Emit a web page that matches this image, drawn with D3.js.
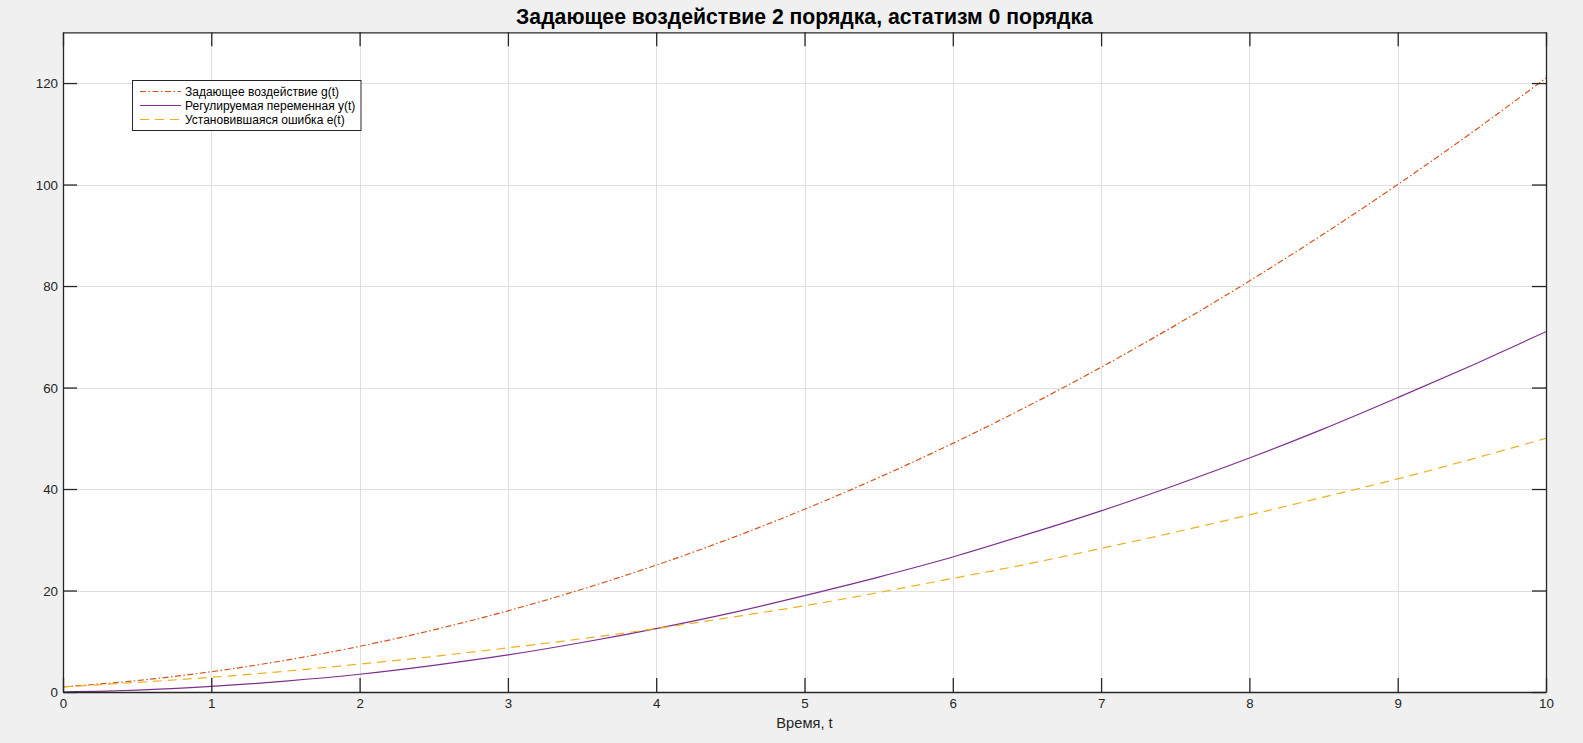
<!DOCTYPE html>
<html><head><meta charset="utf-8">
<script src="https://cdn.jsdelivr.net/npm/d3@7"></script>
<style>
html,body{margin:0;padding:0;background:#f0f0f0;}
svg{display:block;font-family:"Liberation Sans",Arial,Helvetica,sans-serif;}
</style></head>
<body><svg id="c" width="1583" height="743"></svg>
<script>
const titleText = "Задающее воздействие 2 порядка, астатизм 0 порядка";
const xLabel = "Время, t";
const tValues = [0,0.5,1,1.5,2,2.5,3,3.5,4,4.5,5,5.5,6,6.5,7,7.5,8,8.5,9,9.5,10];
const gValues = [1,2.25,4,6.25,9,12.25,16,20.25,25,30.25,36,42.25,49,56.25,64,72.25,81,90.25,100,110.25,121];
const yValues = [0,0.35,1.1,2.15,3.5,5.25,7.3,9.75,12.5,15.55,19.0,22.65,26.6,31.05,35.7,40.75,46.1,51.85,58.0,64.35,71.0];
const eValues = [1,1.9,2.9,4.1,5.5,7.0,8.7,10.5,12.5,14.7,17.0,19.6,22.4,25.2,28.3,31.5,34.9,38.4,42.0,45.9,50.0];
const xTicks = [0,1,2,3,4,5,6,7,8,9,10];
const yTicks = [0,20,40,60,80,100,120];
const seriesNames = ["Задающее воздействие g(t)","Регулируемая переменная y(t)","Установившаяся ошибка e(t)"];

const W = 1583, H = 743;
const m = {left:63, right:37, top:32.3, bottom:51};
const pw = W - m.left - m.right, ph = H - m.top - m.bottom;
const svg = d3.select("#c");
const x = d3.scaleLinear().domain([0,10]).range([m.left, m.left+pw]);
const y = d3.scaleLinear().domain([0,130]).range([m.top+ph, m.top]);
const axCol = "#262626";

svg.append("rect").attr("x",m.left).attr("y",m.top).attr("width",pw).attr("height",ph).attr("fill","#fff");

// grid
const g = svg.append("g");
g.selectAll(".gx").data(xTicks).join("line")
  .attr("x1",d=>Math.round(x(d))+0.5).attr("x2",d=>Math.round(x(d))+0.5)
  .attr("y1",m.top).attr("y2",m.top+ph).attr("stroke","#dfdfdf").attr("stroke-width",1);
g.selectAll(".gy").data(yTicks).join("line")
  .attr("y1",d=>Math.round(y(d))+0.5).attr("y2",d=>Math.round(y(d))+0.5)
  .attr("x1",m.left).attr("x2",m.left+pw).attr("stroke","#dfdfdf").attr("stroke-width",1);

// series
const series = [
  {vals:gValues, color:"#D95319", dash:"6,2.5,1.5,2.5"},
  {vals:yValues, color:"#7E2F8E", dash:null},
  {vals:eValues, color:"#EDB120", dash:"9,6"}
];
const line = d3.line().x((d,i)=>x(tValues[i])).y(d=>y(d)).curve(d3.curveMonotoneX);
svg.append("clipPath").attr("id","pc").append("rect")
  .attr("x",m.left).attr("y",m.top).attr("width",pw).attr("height",ph);
svg.append("g").attr("clip-path","url(#pc)").selectAll("path").data(series).join("path")
  .attr("d",d=>line(d.vals)).attr("fill","none").attr("stroke",d=>d.color)
  .attr("stroke-width",1.2).attr("stroke-dasharray",d=>d.dash);

// axes with inward ticks, box
const tl = 14;
const axB = d3.axisBottom(x).tickValues(xTicks).tickSizeInner(-tl).tickSizeOuter(0).tickPadding(6).tickFormat(d3.format("d"));
const axT = d3.axisTop(x).tickValues(xTicks).tickSizeInner(-tl).tickSizeOuter(0).tickFormat("");
const axL = d3.axisLeft(y).tickValues(yTicks).tickSizeInner(-tl).tickSizeOuter(0).tickPadding(5).tickFormat(d3.format("d"));
const axR = d3.axisRight(y).tickValues(yTicks).tickSizeInner(-tl).tickSizeOuter(0).tickFormat("");
function style(sel){
  sel.selectAll("path").attr("stroke",axCol).attr("stroke-width",1.3);
  sel.selectAll("line").attr("stroke",axCol).attr("stroke-width",1.3);
  sel.selectAll("text").attr("fill",axCol).attr("font-size","13.33px").attr("font-family","Liberation Sans, Arial, sans-serif");
}
svg.append("g").attr("transform",`translate(0,${m.top+ph})`).call(axB).call(style)
  .selectAll(".tick text").attr("y",6).attr("dy","0.78em");
svg.append("g").attr("transform",`translate(0,${m.top})`).call(axT).call(style);
svg.append("g").attr("transform",`translate(${m.left},0)`).call(axL).call(style)
  .selectAll(".tick text").attr("x",-5).attr("dy","0.35em").attr("text-anchor","end");
svg.append("g").attr("transform",`translate(${m.left+pw},0)`).call(axR).call(style);

// title & label
svg.append("text").attr("x",m.left+pw/2).attr("y",24).attr("text-anchor","middle")
  .attr("font-size","21.2px").attr("font-weight","bold").attr("fill","#000").text(titleText);
svg.append("text").attr("x",m.left+pw/2).attr("y",728).attr("text-anchor","middle")
  .attr("font-size","14.67px").attr("fill",axCol).text(xLabel);

// legend
const lg = svg.append("g");
lg.append("rect").attr("x",132.5).attr("y",80.5).attr("width",228.5).attr("height",50)
  .attr("fill","#fff").attr("stroke",axCol).attr("stroke-width",1);
const rows = [91.5, 105.5, 119.5];
series.forEach((s,i)=>{
  lg.append("line").attr("x1",140).attr("x2",181).attr("y1",rows[i]).attr("y2",rows[i])
    .attr("stroke",s.color).attr("stroke-width",1.2).attr("stroke-dasharray",s.dash);
  lg.append("text").attr("x",185).attr("y",rows[i]).attr("dy","0.35em")
    .attr("font-size","12px").attr("fill","#000").text(seriesNames[i]);
});
</script></body></html>
